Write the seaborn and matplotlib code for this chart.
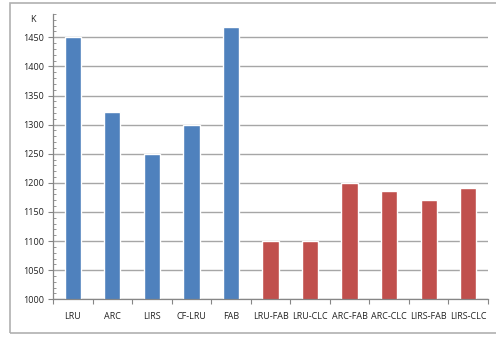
import matplotlib
matplotlib.use("Agg")
import matplotlib.pyplot as plt
from matplotlib.patches import Rectangle
from matplotlib.ticker import MultipleLocator
import pandas as pd
import seaborn as sns

categories = ["LRU", "ARC", "LIRS", "CF-LRU", "FAB",
              "LRU-FAB", "LRU-CLC", "ARC-FAB", "ARC-CLC", "LIRS-FAB", "LIRS-CLC"]
values = [1451, 1322, 1249, 1300, 1467, 1100, 1100, 1200, 1186, 1171, 1191]
groups = ["base"] * 5 + ["combined"] * 6
yticks = [1000, 1050, 1100, 1150, 1200, 1250, 1300, 1350, 1400, 1450]

df = pd.DataFrame({"policy": categories, "value": values, "group": groups})

sns.set_style("white")
plt.rcParams["font.family"] = ["Open Sans", "DejaVu Sans"]

fig = plt.figure(figsize=(4.96, 3.37), dpi=100)
fig.patch.set_facecolor("white")
W, H = 496, 337
ax = fig.add_axes([53 / W, (H - 299.3) / H, (488 - 53) / W, (299.3 - 14) / H])

sns.barplot(data=df, x="policy", y="value", hue="group",
            palette={"base": "#4F81BD", "combined": "#C0504D"},
            dodge=False, width=0.41, legend=False, ax=ax, saturation=1)

ax.set_ylim(1000, 1490)
ax.set_xlim(-0.5, len(categories) - 0.5)
ax.set_yticks(yticks)
ax.yaxis.set_minor_locator(MultipleLocator(10))
ax.yaxis.grid(True, which="major", color="#A6A6A6", linewidth=1.0)
ax.set_axisbelow(True)

for side in ("top", "right"):
    ax.spines[side].set_visible(False)
for side in ("left", "bottom"):
    ax.spines[side].set_color("#868686")
    ax.spines[side].set_linewidth(0.9)

ax.tick_params(axis="y", which="major", direction="out", length=3.5, width=0.8,
               color="#868686", labelsize=6.5, labelcolor="#222222", pad=3, left=True)
ax.tick_params(axis="y", which="minor", direction="in", length=2.5, width=0.6,
               color="#868686", left=True)

# Category labels centred on bars, tick marks between categories
ax.set_xticks(range(len(categories)))
ax.set_xticklabels(categories)
ax.tick_params(axis="x", which="major", length=0, labelsize=6.5,
               labelcolor="#222222", pad=9)
ax.set_xticks([i - 0.5 for i in range(len(categories) + 1)], minor=True)
ax.tick_params(axis="x", which="minor", direction="out", length=3.5, width=0.8,
               color="#868686", bottom=True)

ax.set_xlabel("")
ax.set_ylabel("")
fig.text(33 / W, (H - 19) / H, "K", fontsize=6.5, color="#222222",
         ha="center", va="center")

# Chart area border
fig.patches.append(Rectangle((10 / W, (H - 333) / H), (W + 20 - 10) / W, (333 - 3) / H,
                             transform=fig.transFigure, fill=False,
                             edgecolor="#B0B0B0", linewidth=1.2))

fig.savefig("out.png", dpi=100)
